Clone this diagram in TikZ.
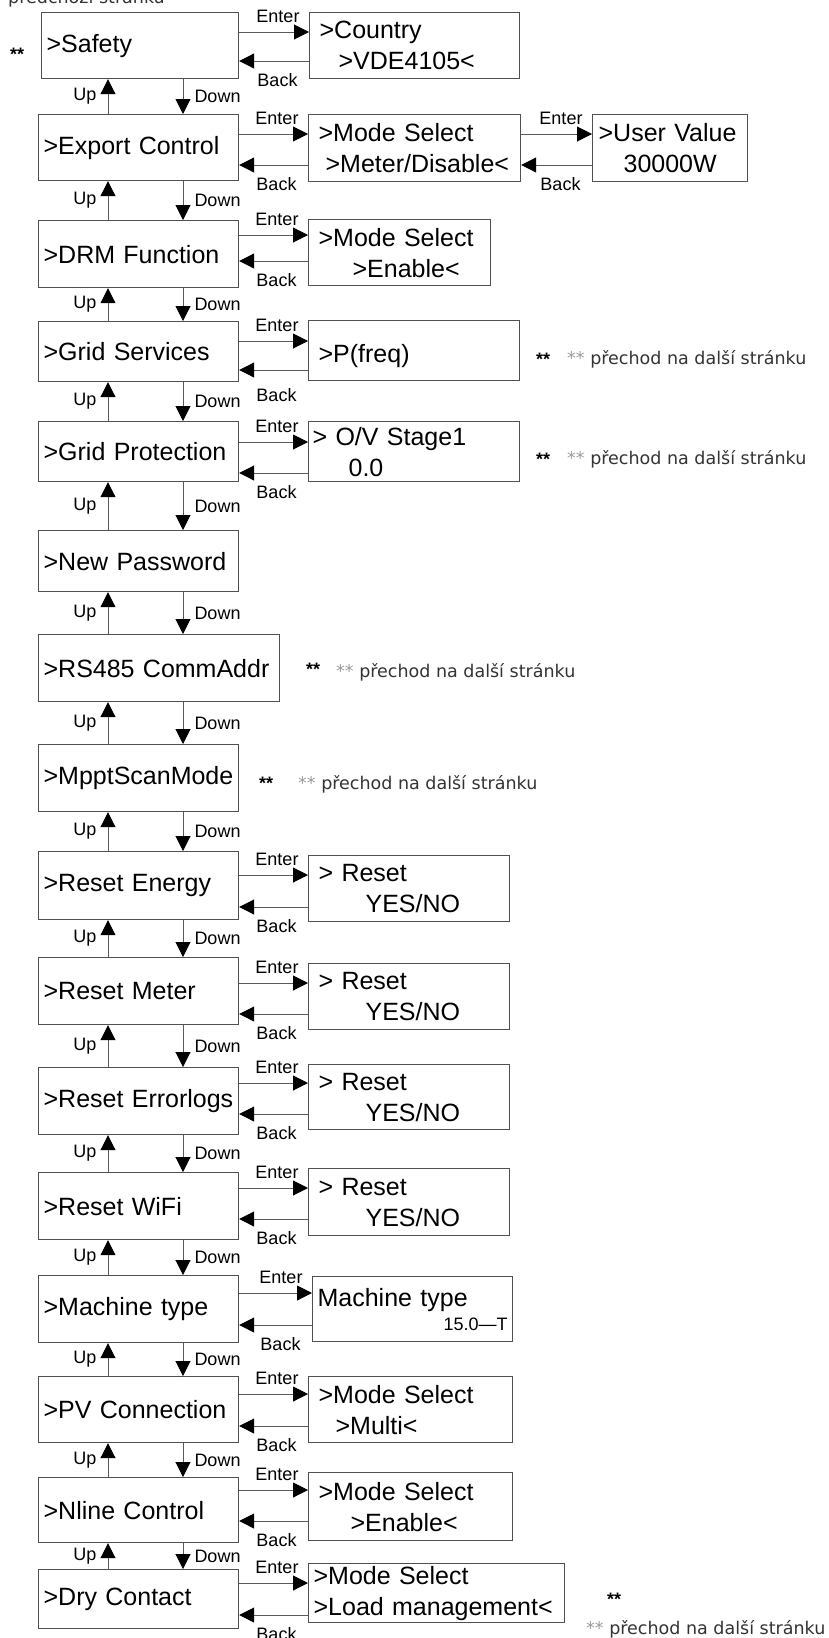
\documentclass[tikz,border=0pt]{standalone}
\usepackage{fontspec}
\setmainfont{Liberation Sans}
\newfontfamily\notefont{DejaVu Sans}
\usetikzlibrary{arrows.meta}
\definecolor{boxline}{HTML}{505050}
\definecolor{linegray}{HTML}{5A5A5A}
\definecolor{notegray}{HTML}{333333}
\definecolor{stargray}{HTML}{9A9A9A}

\begin{document}
\begin{tikzpicture}[x=1pt,y=1pt,
  menubox/.style={draw=boxline,line width=1.2pt,anchor=north west,minimum height=66pt,
    text width=190pt,inner xsep=5pt,inner ysep=0pt,align=left,font=\fontsize{25}{31}\selectfont},
  valbox/.style={menubox,inner xsep=10pt,text width=191pt},
  flow/.style={draw=linegray,line width=1pt,-{Triangle[length=15pt,width=15pt,color=black]}},
  keylbl/.style={inner sep=0pt,font=\fontsize{18}{20}\selectfont},
  enterlbl/.style={keylbl,anchor=south east,xshift=-9pt,yshift=9pt},
  backlbl/.style={keylbl,anchor=north east,xshift=-11pt,yshift=-12pt},
  uplbl/.style={keylbl,anchor=east,xshift=-11pt},
  downlbl/.style={keylbl,anchor=west,xshift=11pt},
  stars/.style={inner sep=0pt,anchor=north west,font=\fontsize{18}{20}\selectfont\bfseries},
  note/.style={inner sep=0pt,anchor=base west,text=notegray,font=\notefont\fontsize{17.5}{20}\selectfont}]
\useasboundingbox (0,0) rectangle (828,-1638);
\coordinate (upx) at (108,0);
\coordinate (dnx) at (183,0);

% menu column
\node[menubox,text width=187pt] (s1) at (41,-12) {>Safety};
\node[menubox] (s2) at (38,-114) {>Export Control};
\node[menubox,minimum height=67pt] (s3) at (38,-220) {>DRM Function};
\node[menubox,minimum height=60pt] (s4) at (38,-321) {>Grid Services};
\node[menubox,minimum height=60pt] (s5) at (38,-421) {>Grid Protection};
\node[menubox,minimum height=61pt] (s6) at (38,-530) {>New Password};
\node[menubox,minimum height=67pt,text width=231pt] (s7) at (38,-634) {>RS485 CommAddr};
\node[menubox,minimum height=67pt] (s8) at (38,-744) {>MpptScanMode};
\node[menubox,minimum height=68pt] (s9) at (38,-851) {>Reset Energy};
\node[menubox,minimum height=67pt] (s10) at (38,-957) {>Reset Meter};
\node[menubox,minimum height=67pt] (s11) at (38,-1067) {>Reset Errorlogs};
\node[menubox,minimum height=67pt] (s12) at (38,-1172) {>Reset WiFi};
\node[menubox,minimum height=67pt] (s13) at (38,-1275) {>Machine type};
\node[menubox] (s14) at (38,-1376) {>PV Connection};
\node[menubox,minimum height=65pt] (s15) at (38,-1477) {>Nline Control};
\node[menubox,minimum height=59pt] (s16) at (38,-1569) {>Dry Contact};

% value boxes
\node[valbox,text width=190pt] (v1) at (309,-12) {>Country\\\hspace*{19pt}>VDE4105<};
\node[valbox,minimum height=67pt,text width=192pt] (v2) at (308,-114) {>Mode Select\\\hspace*{7pt}>Meter/Disable<};
\node[valbox,minimum height=67pt,inner xsep=6pt,text width=143pt] (v2b) at (592,-114) {>User Value\\\hspace*{25pt}30000W};
\node[valbox,text width=162pt] (v3) at (308,-219) {>Mode Select\\\hspace*{34pt}>Enable<};
\node[valbox,minimum height=60pt] (v4) at (308,-320) {\raisebox{-12pt}[0pt][0pt]{>P(freq)}};
\node[valbox,minimum height=60pt,inner xsep=4pt,text width=203pt] (v5) at (308,-421) {> O/V Stage1\\\hspace*{36pt}0.0};
\node[valbox,text width=181pt] (v9) at (308,-855) {> Reset\\\hspace*{47pt}YES/NO};
\node[valbox,text width=181pt] (v10) at (308,-963) {> Reset\\\hspace*{47pt}YES/NO};
\node[valbox,minimum height=65pt,text width=181pt] (v11) at (308,-1064) {> Reset\\\hspace*{47pt}YES/NO};
\node[valbox,minimum height=67pt,text width=181pt] (v12) at (308,-1168) {> Reset\\\hspace*{47pt}YES/NO};
\node[valbox,minimum height=65pt,inner xsep=5pt,text width=190pt] (v13) at (312,-1276) {Machine type\\[-7pt]\hfill\fontsize{18}{20}\selectfont 15.0—T\hspace*{7pt}};
\node[valbox,text width=184pt] (v14) at (308,-1376) {>Mode Select\\\hspace*{17pt}>Multi<};
\node[valbox,minimum height=68pt,text width=184pt] (v15) at (308,-1472) {>Mode Select\\\hspace*{32pt}>Enable<};
\node[valbox,minimum height=59pt,inner xsep=5pt,text width=246pt] (v16) at (308,-1563) {>Mode Select\\>Load management<};

% up / down
\draw[flow] (s2.north -| upx) -- node[uplbl]{Up} (s1.south -| upx);
\draw[flow] (s1.south -| dnx) -- node[downlbl]{Down} (s2.north -| dnx);
\draw[flow] (s3.north -| upx) -- node[uplbl]{Up} (s2.south -| upx);
\draw[flow] (s2.south -| dnx) -- node[downlbl]{Down} (s3.north -| dnx);
\draw[flow] (s4.north -| upx) -- node[uplbl]{Up} (s3.south -| upx);
\draw[flow] (s3.south -| dnx) -- node[downlbl]{Down} (s4.north -| dnx);
\draw[flow] (s5.north -| upx) -- node[uplbl]{Up} (s4.south -| upx);
\draw[flow] (s4.south -| dnx) -- node[downlbl]{Down} (s5.north -| dnx);
\draw[flow] (s6.north -| upx) -- node[uplbl]{Up} (s5.south -| upx);
\draw[flow] (s5.south -| dnx) -- node[downlbl]{Down} (s6.north -| dnx);
\draw[flow] (s7.north -| upx) -- node[uplbl]{Up} (s6.south -| upx);
\draw[flow] (s6.south -| dnx) -- node[downlbl]{Down} (s7.north -| dnx);
\draw[flow] (s8.north -| upx) -- node[uplbl]{Up} (s7.south -| upx);
\draw[flow] (s7.south -| dnx) -- node[downlbl]{Down} (s8.north -| dnx);
\draw[flow] (s9.north -| upx) -- node[uplbl]{Up} (s8.south -| upx);
\draw[flow] (s8.south -| dnx) -- node[downlbl]{Down} (s9.north -| dnx);
\draw[flow] (s10.north -| upx) -- node[uplbl]{Up} (s9.south -| upx);
\draw[flow] (s9.south -| dnx) -- node[downlbl]{Down} (s10.north -| dnx);
\draw[flow] (s11.north -| upx) -- node[uplbl]{Up} (s10.south -| upx);
\draw[flow] (s10.south -| dnx) -- node[downlbl]{Down} (s11.north -| dnx);
\draw[flow] (s12.north -| upx) -- node[uplbl]{Up} (s11.south -| upx);
\draw[flow] (s11.south -| dnx) -- node[downlbl]{Down} (s12.north -| dnx);
\draw[flow] (s13.north -| upx) -- node[uplbl]{Up} (s12.south -| upx);
\draw[flow] (s12.south -| dnx) -- node[downlbl]{Down} (s13.north -| dnx);
\draw[flow] (s14.north -| upx) -- node[uplbl]{Up} (s13.south -| upx);
\draw[flow] (s13.south -| dnx) -- node[downlbl]{Down} (s14.north -| dnx);
\draw[flow] (s15.north -| upx) -- node[uplbl]{Up} (s14.south -| upx);
\draw[flow] (s14.south -| dnx) -- node[downlbl]{Down} (s15.north -| dnx);
\draw[flow] (s16.north -| upx) -- node[uplbl]{Up} (s15.south -| upx);
\draw[flow] (s15.south -| dnx) -- node[downlbl]{Down} (s16.north -| dnx);

% enter / back
\draw[flow] (s1.east |- 0,-32) -- (v1.west |- 0,-32) node[enterlbl]{Enter};
\draw[flow] (v1.west |- 0,-61) node[backlbl]{Back} -- (s1.east |- 0,-61);
\draw[flow] (s2.east |- 0,-134) -- (v2.west |- 0,-134) node[enterlbl]{Enter};
\draw[flow] (v2.west |- 0,-165) node[backlbl]{Back} -- (s2.east |- 0,-165);
\draw[flow] (v2.east |- 0,-134) -- (v2b.west |- 0,-134) node[enterlbl]{Enter};
\draw[flow] (v2b.west |- 0,-165) node[backlbl]{Back} -- (v2.east |- 0,-165);
\draw[flow] (s3.east |- 0,-235) -- (v3.west |- 0,-235) node[enterlbl]{Enter};
\draw[flow] (v3.west |- 0,-261) node[backlbl]{Back} -- (s3.east |- 0,-261);
\draw[flow] (s4.east |- 0,-341) -- (v4.west |- 0,-341) node[enterlbl]{Enter};
\draw[flow] (v4.west |- 0,-370) node[backlbl,yshift=-6pt]{Back} -- (s4.east |- 0,-370);
\draw[flow] (s5.east |- 0,-442) -- (v5.west |- 0,-442) node[enterlbl]{Enter};
\draw[flow] (v5.west |- 0,-473) node[backlbl]{Back} -- (s5.east |- 0,-473);
\draw[flow] (s9.east |- 0,-875) -- (v9.west |- 0,-875) node[enterlbl]{Enter};
\draw[flow] (v9.west |- 0,-907) node[backlbl]{Back} -- (s9.east |- 0,-907);
\draw[flow] (s10.east |- 0,-983) -- (v10.west |- 0,-983) node[enterlbl]{Enter};
\draw[flow] (v10.west |- 0,-1014) node[backlbl]{Back} -- (s10.east |- 0,-1014);
\draw[flow] (s11.east |- 0,-1083) -- (v11.west |- 0,-1083) node[enterlbl]{Enter};
\draw[flow] (v11.west |- 0,-1114) node[backlbl]{Back} -- (s11.east |- 0,-1114);
\draw[flow] (s12.east |- 0,-1188) -- (v12.west |- 0,-1188) node[enterlbl]{Enter};
\draw[flow] (v12.west |- 0,-1219) node[backlbl]{Back} -- (s12.east |- 0,-1219);
\draw[flow] (s13.east |- 0,-1293) -- (v13.west |- 0,-1293) node[enterlbl]{Enter};
\draw[flow] (v13.west |- 0,-1325) node[backlbl]{Back} -- (s13.east |- 0,-1325);
\draw[flow] (s14.east |- 0,-1394) -- (v14.west |- 0,-1394) node[enterlbl]{Enter};
\draw[flow] (v14.west |- 0,-1426) node[backlbl]{Back} -- (s14.east |- 0,-1426);
\draw[flow] (s15.east |- 0,-1490) -- (v15.west |- 0,-1490) node[enterlbl]{Enter};
\draw[flow] (v15.west |- 0,-1521) node[backlbl]{Back} -- (s15.east |- 0,-1521);
\draw[flow] (s16.east |- 0,-1583) -- (v16.west |- 0,-1583) node[enterlbl]{Enter};
\draw[flow] (v16.west |- 0,-1615) node[backlbl]{Back} -- (s16.east |- 0,-1615);

% page notes
\node[note] (prevnote) at (8,-4) {předchozí stránku};
\node[stars] (star1) at (10,-48) {**};
\node[stars] (star4) at (536,-353) {**};
\node[note] (note4) at (567,-364) {\textcolor{stargray}{**} přechod na další stránku};
\node[stars] (star5) at (536,-453) {**};
\node[note] (note5) at (567,-464) {\textcolor{stargray}{**} přechod na další stránku};
\node[stars] (star7) at (306,-663) {**};
\node[note] (note7) at (336,-677) {\textcolor{stargray}{**} přechod na další stránku};
\node[stars] (star8) at (259,-777) {**};
\node[note] (note8) at (298,-789) {\textcolor{stargray}{**} přechod na další stránku};
\node[stars] (star16) at (607,-1593) {**};
\node[note] (note16) at (586,-1634) {\textcolor{stargray}{**} přechod na další stránku};
\end{tikzpicture}
\end{document}
